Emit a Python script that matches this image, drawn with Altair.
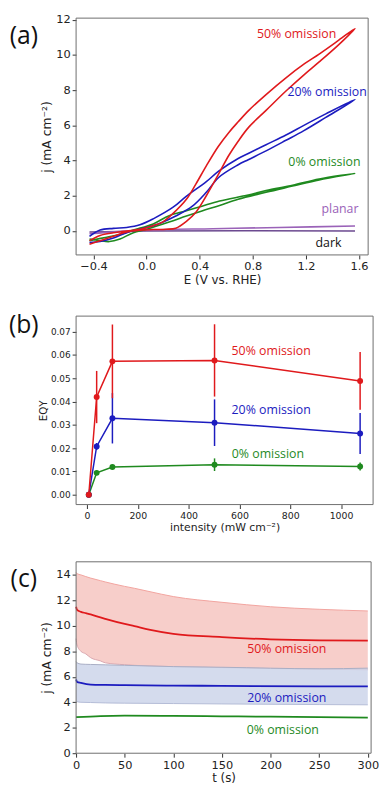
import altair as alt
import pandas as pd

# ---------------- Panel (a): CV loops ----------------
red_E = [-0.43, -0.35, -0.25, -0.15, -0.05, 0.05, 0.15, 0.22, 0.30, 0.37, 0.45, 0.54, 0.62, 0.69, 0.77, 0.90, 1.05, 1.19, 1.30, 1.45, 1.57,
         1.45, 1.30, 1.19, 1.05, 0.90, 0.77, 0.69, 0.62, 0.54, 0.45, 0.37, 0.30, 0.20, 0.12, 0.05, -0.05, -0.15, -0.25, -0.35, -0.43]
red_j = [-0.75, -0.55, -0.30, -0.05, 0.05, 0.08, 0.10, 0.16, 0.55, 1.05, 2.0, 3.2, 4.3, 5.1, 5.9, 6.85, 7.95, 8.9, 9.6, 10.6, 11.5,
         10.85, 10.05, 9.5, 8.7, 7.75, 6.85, 6.2, 5.6, 4.8, 3.7, 2.65, 1.8, 1.0, 0.5, 0.3, 0.1, 0.0, -0.1, -0.25, -0.55]

blue_E = [-0.43, -0.35, -0.25, -0.15, -0.05, 0.05, 0.12, 0.22, 0.345, 0.45, 0.543, 0.69, 0.766, 0.90, 1.05, 1.185, 1.35, 1.57,
          1.35, 1.185, 1.05, 0.90, 0.766, 0.69, 0.543, 0.45, 0.296, 0.20, 0.05, -0.05, -0.15, -0.25, -0.35, -0.43]
blue_j = [-0.65, -0.60, -0.40, -0.10, 0.10, 0.30, 0.50, 0.85, 1.41, 2.2, 3.04, 3.76, 4.05, 4.55, 5.15, 5.7, 6.45, 7.47,
          6.65, 6.0, 5.45, 4.9, 4.4, 4.12, 3.4, 2.8, 1.95, 1.35, 0.69, 0.35, 0.20, 0.15, 0.05, -0.30]

green_E = [-0.43, -0.35, -0.28, -0.20, -0.10, 0.0, 0.17, 0.30, 0.417, 0.55, 0.69, 0.90, 1.10, 1.30, 1.57,
           1.30, 1.10, 0.90, 0.766, 0.55, 0.417, 0.30, 0.17, 0.05, -0.10, -0.20, -0.30, -0.43]
green_j = [-0.45, -0.55, -0.60, -0.45, -0.10, 0.10, 0.51, 0.85, 1.14, 1.45, 1.80, 2.20, 2.55, 2.90, 3.27,
           2.95, 2.60, 2.30, 2.04, 1.70, 1.41, 1.15, 0.87, 0.40, 0.05, -0.20, -0.35, -0.55]

planar_E = [-0.43, 0.0, 0.5, 1.0, 1.57]
planar_j = [-0.15, 0.05, 0.13, 0.20, 0.28]

dark_E = [-0.43, 0.0, 1.57]
dark_j = [-0.06, 0.0, 0.0]

a_label_text = ["50% omission", "20% omission", "0% omission", "planar", "dark"]
a_label_E = [1.13, 1.36, 1.34, 1.457, 1.37]
a_label_j = [11.2, 7.88, 3.9, 1.23, -0.69]

# ---------------- Panel (b): EQY vs intensity ----------------
intensity = [7, 38, 100, 502, 1075]
eqy_50 = [0.0, 0.0419, 0.0572, 0.0576, 0.0488]
err_50 = [0.0, 0.0112, 0.0158, 0.0155, 0.0124]
eqy_20 = [0.0, 0.0207, 0.0328, 0.0309, 0.0263]
err_20 = [0.0, 0.0015, 0.0108, 0.0100, 0.0088]
eqy_0 = [0.0, 0.0094, 0.0119, 0.0129, 0.0121]
err_0 = [0.0, 0.0010, 0.0006, 0.0027, 0.0017]

b_label_text = ["50% omission", "20% omission", "0% omission"]
b_label_x = [725, 725, 712]
b_label_y = [0.0616, 0.0365, 0.0176]

# ---------------- Panel (c): chronoamperometry ----------------
t_red = [0, 1, 5, 10, 15, 25, 30, 50, 60, 75, 100, 150, 200, 250, 300]
red_mean = [11.5, 11.25, 11.1, 11.0, 10.9, 10.66, 10.55, 10.15, 9.98, 9.71, 9.38, 9.12, 8.94, 8.86, 8.84]
red_hi = [14.18, 14.1, 14.0, 13.87, 13.75, 13.55, 13.45, 13.1, 12.95, 12.7, 12.3, 11.85, 11.5, 11.3, 11.17]
red_lo = [9.0, 8.5, 8.0, 7.8, 7.5, 7.25, 7.1, 6.95, 6.9, 6.85, 6.8, 6.72, 6.65, 6.6, 6.55]

t_blue = [0, 1, 5, 15, 30, 50, 100, 150, 250, 300]
blue_mean = [5.78, 5.6, 5.52, 5.39, 5.36, 5.34, 5.31, 5.29, 5.24, 5.24]
blue_hi = [7.19, 7.1, 7.0, 6.97, 6.94, 6.9, 6.8, 6.75, 6.63, 6.68]
blue_lo = [4.11, 4.05, 4.0, 3.98, 3.95, 3.93, 3.9, 3.87, 3.82, 3.8]

t_green = [0, 25, 50, 100, 150, 200, 250, 300]
green_mean = [2.83, 2.92, 2.95, 2.93, 2.9, 2.87, 2.83, 2.8]

c_label_text = ["50% omission", "20% omission", "0% omission"]
c_label_t = [216.7, 216.7, 212.6]
c_label_j = [8.17, 4.32, 1.85]

RED = "#e0191c"
BLUE = "#1c1cbf"
GREEN = "#1f8a1f"
PURPLE = "#9a62b8"
DARKLINE = "#6c4a90"
FRAME = "#6e6e6e"

TICK_FONT = "DejaVu Sans"
ANN_FONT = "Open Sans"

WA, HA = 296, 240
WB, HB = 301, 191
WC, HC = 299, 194


def axis(values, fmt, size, title, title_size):
    return alt.Axis(values=values, format=fmt, grid=False, domain=False, tickSize=4,
                    tickColor="#333", labelColor="#222", labelFont=TICK_FONT, labelFontSize=size,
                    labelOverlap=False, labelFlush=False,
                    title=title, titleFont=TICK_FONT, titleFontSize=title_size,
                    titleFontWeight="normal", titleColor="#222", labelPadding=2, titlePadding=2)


def loop_df(E, j):
    return pd.DataFrame({"x": E, "y": j, "i": list(range(len(E)))})


def letter(txt, dx, dy):
    return alt.Chart(pd.DataFrame({"t": [txt]})).mark_text(
        font=ANN_FONT, fontSize=25, color="#111", align="center", baseline="middle"
    ).encode(text="t:N", x=alt.value(dx), y=alt.value(dy))


def frame(w, h):
    base = alt.Chart(pd.DataFrame({"f": [0]}))
    return [
        base.mark_rule(color=FRAME, strokeWidth=1).encode(x=alt.value(0), y=alt.value(0), y2=alt.value(h)),
        base.mark_rule(color=FRAME, strokeWidth=1).encode(x=alt.value(w), y=alt.value(0), y2=alt.value(h)),
        base.mark_rule(color=FRAME, strokeWidth=1).encode(y=alt.value(0), x=alt.value(0), x2=alt.value(w)),
        base.mark_rule(color=FRAME, strokeWidth=1).encode(y=alt.value(h), x=alt.value(0), x2=alt.value(w)),
    ]


# ---------- (a)
xa = alt.X("x:Q", scale=alt.Scale(domain=[-0.531, 1.669], nice=False, zero=False),
           axis=axis([-0.4, 0.0, 0.4, 0.8, 1.2, 1.6], ".1f", 11.5, "E (V vs. RHE)", 12))
ya = alt.Y("y:Q", scale=alt.Scale(domain=[-1.36, 12.09], nice=False, zero=False),
           axis=axis([0, 2, 4, 6, 8, 10, 12], "d", 11.5, "j (mA cm⁻²)", 12.5))

a_layers = []
for E, j, col in [(dark_E, dark_j, DARKLINE), (planar_E, planar_j, PURPLE),
                  (green_E, green_j, GREEN), (blue_E, blue_j, BLUE), (red_E, red_j, RED)]:
    a_layers.append(alt.Chart(loop_df(E, j)).mark_line(color=col, strokeWidth=1.6,
                                                       interpolate="catmull-rom").encode(
        x=xa, y=ya, order="i:Q"))

a_lab = pd.DataFrame({"x": a_label_E, "y": a_label_j, "label": a_label_text,
                      "c": [RED, BLUE, GREEN, PURPLE, "#111"]})
a_layers.append(alt.Chart(a_lab).mark_text(font=ANN_FONT, fontSize=12.5, align="center",
                                           baseline="middle").encode(
    x=xa, y=ya, text="label:N", color=alt.Color("c:N", scale=None)))
a_layers.append(letter("(a)", -53, 18))
a_layers += frame(WA, HA)
panel_a = alt.layer(*a_layers).properties(width=WA, height=HA)

# ---------- (b)
xb = alt.X("x:Q", scale=alt.Scale(domain=[-43, 1126], nice=False, zero=False),
           axis=axis([0, 200, 400, 600, 800, 1000], "d", 9.5, "intensity (mW cm⁻²)", 11))
sb = alt.Scale(domain=[-0.0042, 0.0766], nice=False, zero=False)
yax_b = axis([0, 0.01, 0.02, 0.03, 0.04, 0.05, 0.06, 0.07], ".2f", 9, "EQY", 10.5)
yb = alt.Y("y:Q", scale=sb, axis=yax_b)

b_layers = []
for vals, errs, col in [(eqy_0, err_0, GREEN), (eqy_20, err_20, BLUE), (eqy_50, err_50, RED)]:
    df = pd.DataFrame({"x": intensity, "y": vals,
                       "lo": [v - e for v, e in zip(vals, errs)],
                       "hi": [v + e for v, e in zip(vals, errs)]})
    base = alt.Chart(df)
    b_layers.append(base.mark_rule(color=col, strokeWidth=1.5).encode(
        x=xb, y=alt.Y("lo:Q", scale=sb, axis=yax_b), y2="hi:Q"))
    b_layers.append(base.mark_line(color=col, strokeWidth=1.5).encode(x=xb, y=yb))
    b_layers.append(base.mark_circle(color=col, size=36, opacity=1).encode(x=xb, y=yb))

b_lab = pd.DataFrame({"x": b_label_x, "y": b_label_y, "label": b_label_text, "c": [RED, BLUE, GREEN]})
b_layers.append(alt.Chart(b_lab).mark_text(font=ANN_FONT, fontSize=12.5, align="center",
                                           baseline="middle").encode(
    x=xb, y=yb, text="label:N", color=alt.Color("c:N", scale=None)))
b_layers.append(letter("(b)", -53, 9))
b_layers += frame(WB, HB)
panel_b = alt.layer(*b_layers).properties(width=WB, height=HB)

# ---------- (c)
xc = alt.X("x:Q", scale=alt.Scale(domain=[0, 303.4], nice=False, zero=False),
           axis=axis([0, 50, 100, 150, 200, 250, 300], "d", 11.5, "t (s)", 12))
sc = alt.Scale(domain=[0, 15.03], nice=False, zero=False)
yax_c = axis([0, 2, 4, 6, 8, 10, 12, 14], "d", 11.5, "j (mA cm⁻²)", 12.5)


def yc(field):
    return alt.Y(field, scale=sc, axis=yax_c)


red_df = pd.DataFrame({"x": t_red, "y": red_mean, "lo": red_lo, "hi": red_hi})
blue_df = pd.DataFrame({"x": t_blue, "y": blue_mean, "lo": blue_lo, "hi": blue_hi})
green_df = pd.DataFrame({"x": t_green, "y": green_mean})

c_layers = [
    alt.Chart(red_df).mark_area(color="#f6c6c1", opacity=0.85, interpolate="monotone").encode(
        x=xc, y=yc("lo:Q"), y2="hi:Q"),
    alt.Chart(red_df).mark_line(color="#f2a49e", strokeWidth=1, interpolate="monotone").encode(x=xc, y=yc("hi:Q")),
    alt.Chart(red_df).mark_line(color="#d9a8b0", strokeWidth=1, interpolate="monotone").encode(x=xc, y=yc("lo:Q")),
    alt.Chart(blue_df).mark_area(color="#ccd5ea", opacity=0.85, interpolate="monotone").encode(
        x=xc, y=yc("lo:Q"), y2="hi:Q"),
    alt.Chart(blue_df).mark_line(color="#a9aec4", strokeWidth=1, interpolate="monotone").encode(x=xc, y=yc("hi:Q")),
    alt.Chart(blue_df).mark_line(color="#b4bcd6", strokeWidth=1, interpolate="monotone").encode(x=xc, y=yc("lo:Q")),
    alt.Chart(red_df).mark_line(color=RED, strokeWidth=1.8, interpolate="monotone").encode(x=xc, y=yc("y:Q")),
    alt.Chart(blue_df).mark_line(color=BLUE, strokeWidth=1.8, interpolate="monotone").encode(x=xc, y=yc("y:Q")),
    alt.Chart(green_df).mark_line(color=GREEN, strokeWidth=1.8, interpolate="monotone").encode(x=xc, y=yc("y:Q")),
]
c_lab = pd.DataFrame({"x": c_label_t, "y": c_label_j, "label": c_label_text, "c": [RED, BLUE, GREEN]})
c_layers.append(alt.Chart(c_lab).mark_text(font=ANN_FONT, fontSize=12.5, align="center",
                                           baseline="middle").encode(
    x=xc, y=yc("y:Q"), text="label:N", color=alt.Color("c:N", scale=None)))
c_layers.append(letter("(c)", -53, 18))
c_layers += frame(WC, HC)
panel_c = alt.layer(*c_layers).properties(width=WC, height=HC)

chart = alt.vconcat(panel_a, panel_b, panel_c, spacing=28).properties(
    padding={"left": 0, "top": 0, "right": 0, "bottom": 0}
).configure_view(stroke=None)

chart.save("out.html", embed_options={"renderer": "svg", "actions": False})
